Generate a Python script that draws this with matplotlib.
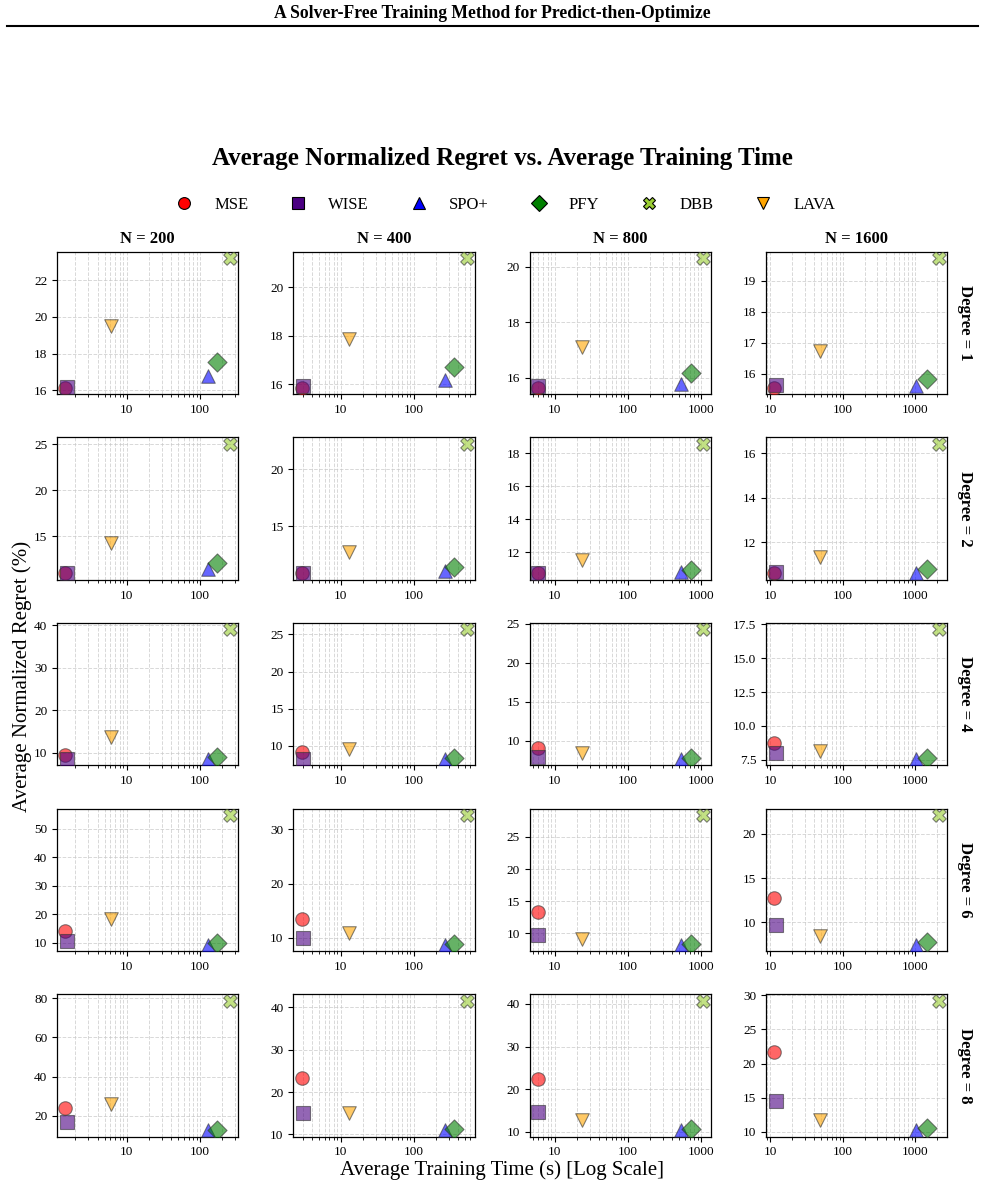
import matplotlib
matplotlib.use('Agg')
import matplotlib.pyplot as plt
from matplotlib.lines import Line2D
from matplotlib.ticker import MaxNLocator, FuncFormatter, NullFormatter

plt.rcParams['font.family'] = ['Liberation Serif', 'DejaVu Serif']

# ---------------- data ----------------
methods = ['MSE', 'WISE', 'SPO+', 'PFY', 'DBB', 'LAVA']
sample_sizes = [200, 400, 800, 1600]
degrees = [1, 2, 4, 6, 8]

# average training time (s) per method, one list per sample size
time_n200 = [1.45, 1.55, 128, 172, 260, 6.2]
time_n400 = [2.9, 3.0, 270, 360, 530, 12.8]
time_n800 = [5.9, 6.0, 530, 730, 1060, 24]
time_n1600 = [11.3, 12.0, 1020, 1430, 2130, 49]

# average normalized regret (%) per method; rows = N 200, 400, 800, 1600
regret_deg1 = [[16.15, 16.2, 16.8, 17.54, 23.2, 19.5],
               [15.86, 15.95, 16.17, 16.73, 21.21, 17.86],
               [15.65, 15.71, 15.8, 16.19, 20.3, 17.11],
               [15.55, 15.65, 15.59, 15.84, 19.72, 16.73]]
regret_deg2 = [[10.95, 11.0, 11.41, 12.1, 25.07, 14.31],
               [10.84, 10.88, 11.08, 11.42, 22.25, 12.73],
               [10.73, 10.76, 10.79, 10.95, 18.57, 11.56],
               [10.62, 10.65, 10.59, 10.8, 16.42, 11.33]]
regret_deg4 = [[9.6, 8.7, 8.6, 9.1, 39.0, 13.7],
               [9.19, 8.2, 8.2, 8.33, 25.68, 9.55],
               [9.07, 8.0, 7.7, 7.87, 24.28, 8.5],
               [8.78, 8.0, 7.57, 7.67, 17.11, 8.17]]
regret_deg6 = [[14.2, 10.7, 9.4, 10.1, 54.7, 18.3],
               [13.41, 10.06, 8.78, 8.84, 32.6, 10.9],
               [13.26, 9.8, 8.24, 8.34, 28.4, 9.12],
               [12.76, 9.7, 7.5, 7.8, 22.13, 8.42]]
regret_deg8 = [[23.9, 16.77, 12.5, 12.8, 78.8, 26.1],
               [23.26, 15.18, 11.0, 11.4, 41.55, 15.1],
               [22.47, 14.59, 10.4, 10.77, 40.77, 12.7],
               [21.65, 14.56, 10.24, 10.5, 29.2, 11.7]]

times = [time_n200, time_n400, time_n800, time_n1600]
regrets = [regret_deg1, regret_deg2, regret_deg4, regret_deg6, regret_deg8]

# ---------------- style ----------------
markers = ['o', 's', '^', 'D', 'X', 'v']
colors = ['red', 'indigo', 'blue', 'green', 'yellowgreen', 'orange']

W, H = 985, 1189
fig, axes = plt.subplots(len(degrees), len(sample_sizes),
                         figsize=(W / 100, H / 100), dpi=100)
plt.subplots_adjust(left=57 / W, right=947.4 / W,
                    top=1 - 251.7 / H, bottom=1 - 1136.7 / H,
                    wspace=0.302, hspace=0.303)

for i, deg in enumerate(degrees):
    for j, n in enumerate(sample_sizes):
        ax = axes[i][j]
        for k, m in enumerate(methods):
            ax.scatter([times[j][k]], [regrets[i][j][k]], marker=markers[k],
                       c=colors[k], s=95, alpha=0.6, edgecolors='#333333',
                       linewidths=0.8, zorder=3)
        ax.set_xscale('log')
        ax.set_axisbelow(True)
        ax.grid(True, which='both', linestyle='--', linewidth=0.7,
                color='#c8c8c8', alpha=0.7)
        ax.yaxis.set_major_locator(MaxNLocator(nbins=5, steps=[1, 2, 2.5, 5, 10]))
        ax.xaxis.set_major_formatter(FuncFormatter(lambda v, p: f'{v:g}'))
        ax.xaxis.set_minor_formatter(NullFormatter())
        ax.tick_params(labelsize=9.5)
        for sp in ax.spines.values():
            sp.set_linewidth(0.9)
        if i == 0:
            ax.set_title(f'N = {n}', fontsize=12, fontweight='bold', pad=6.5)
        if j == len(sample_sizes) - 1:
            ax.text(1.098, 0.5, f'Degree = {deg}', rotation=270,
                    transform=ax.transAxes, ha='center', va='center',
                    fontsize=12, fontweight='bold')

# header
fig.text(0.5, 1 - 13 / H, 'A Solver-Free Training Method for Predict-then-Optimize',
         ha='center', va='center', fontsize=12.7, fontweight='bold')
fig.add_artist(Line2D([7 / W, 978 / W], [1 - 26 / H, 1 - 26 / H],
                      color='black', lw=1.5, transform=fig.transFigure))

# main title
fig.text(0.5097, 1 - 158 / H, 'Average Normalized Regret vs. Average Training Time',
         ha='center', va='center', fontsize=18, fontweight='bold')

# legend
handles = [Line2D([0], [0], marker=markers[k], linestyle='',
                  markerfacecolor=colors[k], markeredgecolor='black',
                  markeredgewidth=0.8, markersize=8.5)
           for k in range(len(methods))]
fig.legend(handles, methods, loc='center', bbox_to_anchor=(0.509, 1 - 205 / H),
           ncol=6, frameon=False, fontsize=12)

# axis labels
fig.text(0.5097, 1 - 1170 / H, 'Average Training Time (s) [Log Scale]',
         ha='center', va='center', fontsize=15)
fig.text(22 / W, 1 - 676 / H, 'Average Normalized Regret (%)', rotation=90,
         ha='center', va='center', fontsize=15)

fig.savefig('out.png', dpi=100)
